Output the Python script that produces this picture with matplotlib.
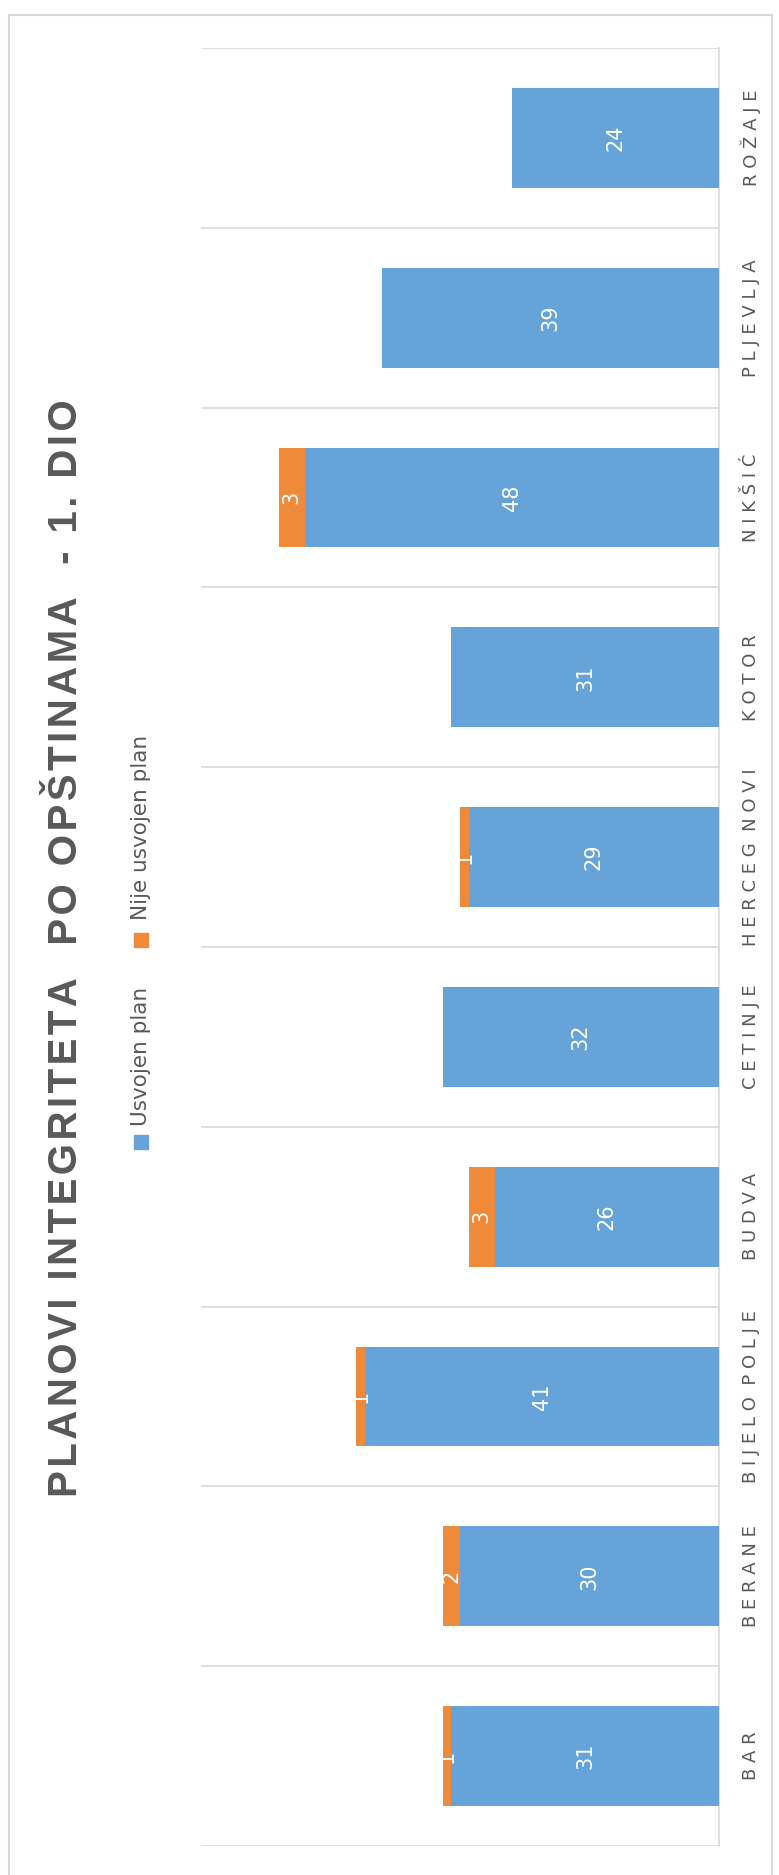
import matplotlib
matplotlib.use("Agg")
from matplotlib import pyplot as plt
from matplotlib.patches import Rectangle

categories = ["BAR", "BERANE", "BIJELO POLJE", "BUDVA", "CETINJE",
              "HERCEG NOVI", "KOTOR", "NIKŠIĆ", "PLJEVLJA", "ROŽAJE"]
usvojen = [31, 30, 41, 26, 32, 29, 31, 48, 39, 24]
nije = [1, 2, 1, 3, 0, 1, 0, 3, 0, 0]
series_names = ["Usvojen plan", "Nije usvojen plan"]
title = "PLANOVI INTEGRITETA  PO OPŠTINAMA  - 1. DIO"

BLUE = "#66A3D8"
ORANGE = "#EF8A3B"
GRAY = "#595959"
LINE = "#D9D9D9"

W, H = 779, 1875
fig = plt.figure(figsize=(W / 100, H / 100), dpi=100)

def fx(px):
    return px / W

def fy(py):
    # pixel row from top -> figure coord
    return 1 - py / H

# outer chart frame
fig.patches.append(Rectangle((fx(9), -0.05), fx(772 - 9), fy(15) + 0.05,
                             transform=fig.transFigure, fill=False,
                             edgecolor=LINE, lw=1.5))

ax = fig.add_axes([fx(201), fy(1846), fx(719 - 201), (1846 - 48) / H])

ys = [i + 0.5 for i in range(len(categories))]
ax.barh(ys, usvojen, height=0.556, color=BLUE, zorder=3)
ax.barh(ys, nije, left=usvojen, height=0.556, color=ORANGE, zorder=3)

ax.set_xlim(60, 0)
ax.set_ylim(0, len(categories))
ax.set_xticks([])
ax.set_yticks(range(len(categories) + 1))
ax.tick_params(axis="y", length=0, labelleft=False)
ax.grid(axis="y", color=LINE, lw=1.2, zorder=0)
for s in ["left", "top", "bottom"]:
    ax.spines[s].set_visible(False)
ax.spines["right"].set_color(LINE)
ax.spines["right"].set_linewidth(1.2)

# data labels
for y, a, b in zip(ys, usvojen, nije):
    ax.text(a / 2, y, str(a), rotation=90, ha="center", va="center",
            color="white", fontsize=15, zorder=5)
    if b:
        ax.text(a + b / 2, y, str(b), rotation=90, ha="center", va="center",
                color="white", fontsize=15, zorder=5)

# category labels, letter spaced
def spaced(s):
    return "  ".join(" ".join(w) for w in s.split(" "))

tr = ax.get_yaxis_transform()
for y, c in zip(ys, categories):
    ax.text(1.0618, y, spaced(c), transform=tr, rotation=90,
            ha="center", va="center", color=GRAY, fontsize=13)

# title, slightly letter spaced with hair spaces
fig.text(fx(66), fy(948), "\u200a".join(title),
         rotation=90, ha="center", va="center", color=GRAY,
         fontsize=29, fontweight="bold",
         family=["Liberation Sans", "DejaVu Sans"])

# legend drawn by hand (rotated)
leg = [(series_names[0], BLUE, 1142, 1126), (series_names[1], ORANGE, 940, 920)]
for name, col, sq, txt in leg:
    fig.patches.append(Rectangle((fx(134), fy(sq + 7)), fx(14), 14 / H,
                                 transform=fig.transFigure, color=col))
    fig.text(fx(141), fy(txt), name, rotation=90, ha="center", va="bottom",
             color=GRAY, fontsize=15.5)

fig.savefig("out.png", dpi=100)
